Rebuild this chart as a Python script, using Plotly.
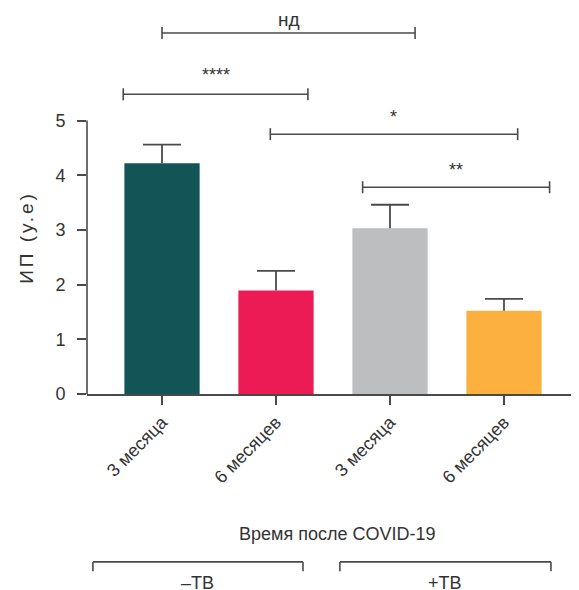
import plotly.graph_objects as go

categories = ["3 месяца", "6 месяцев", "3 месяца", "6 месяцев"]
means = [4.22, 1.89, 3.03, 1.52]
sd_upper = [0.34, 0.36, 0.43, 0.22]
bar_colors = ["#135457", "#EC1A55", "#BCBEC0", "#FBB040"]
y_ticks = [0, 1, 2, 3, 4, 5]

# significance brackets: (label, x_start, x_end, y_line, y_text)
sig_labels = ["нд", "****", "*", "**"]
sig_x0 = [0.0, -0.34, 0.95, 1.76]
sig_x1 = [2.22, 1.28, 3.12, 3.40]
sig_y = [6.60, 5.48, 4.75, 3.78]
sig_ty = [6.84, 5.83, 5.06, 4.10]
sig_size = [19, 18, 18, 18]

font_family = "Liberation Sans, Arial, sans-serif"
ink = "#333333"
line_c = "#4a4a4a"
xpos = list(range(len(categories)))

fig = go.Figure()
fig.add_trace(go.Bar(
    x=xpos, y=means,
    marker=dict(color=bar_colors, line=dict(width=0)),
    width=0.66, showlegend=False, hoverinfo="skip",
))

# upper-only error bars (stem + cap) built from the data
cap = 0.167
ex, ey = [], []
for x, m, s in zip(xpos, means, sd_upper):
    ex += [x, x, None, x - cap, x + cap, None]
    ey += [m, m + s, None, m + s, m + s, None]
fig.add_trace(go.Scatter(x=ex, y=ey, mode="lines",
                         line=dict(color=line_c, width=1.8),
                         showlegend=False, hoverinfo="skip"))

shapes = []
annotations = []
for lab, x0, x1, y, ty, fs in zip(sig_labels, sig_x0, sig_x1, sig_y, sig_ty, sig_size):
    shapes.append(dict(type="line", xref="x", yref="y", x0=x0, x1=x1, y0=y, y1=y,
                       line=dict(color=line_c, width=1.6)))
    for xe in (x0, x1):
        shapes.append(dict(type="line", xref="x", yref="y", x0=xe, x1=xe,
                           y0=y - 0.11, y1=y + 0.11, line=dict(color=line_c, width=1.6)))
    annotations.append(dict(text=lab, x=(x0 + x1) / 2, y=ty, xref="x", yref="y",
                            xanchor="center", yanchor="middle",
                            showarrow=False, font=dict(size=fs, color=ink, family=font_family)))

# y axis line only from 0 to 5
shapes.append(dict(type="line", xref="paper", yref="y", x0=0, x1=0, y0=0, y1=5,
                   line=dict(color=line_c, width=1.6)))

# bottom group brackets
groups = [("\u2013TB", 0.012, 0.439), ("+TB", 0.514, 0.943)]
for lab, a, b in groups:
    shapes.append(dict(type="line", xref="paper", yref="paper", x0=a, x1=b,
                       y0=-0.435, y1=-0.435, line=dict(color=line_c, width=1.6)))
    for xe in (a, b):
        shapes.append(dict(type="line", xref="paper", yref="paper", x0=xe, x1=xe,
                           y0=-0.435, y1=-0.459, line=dict(color=line_c, width=1.6)))
    annotations.append(dict(text=lab, x=(a + b) / 2, y=-0.49, xref="paper", yref="paper",
                            xanchor="center", yanchor="middle",
                            showarrow=False, font=dict(size=18, color=ink, family=font_family)))

annotations.append(dict(text="Время после COVID-19", x=0.508, y=-0.3627, xref="paper",
                        yref="paper", xanchor="center", yanchor="middle", showarrow=False,
                        font=dict(size=18, color=ink, family=font_family)))
annotations.append(dict(text='<span style="letter-spacing:3px">ИП (у.е)</span>',
                        x=-0.122, y=0.407, xref="paper", yref="paper",
                        xanchor="center", yanchor="middle",
                        showarrow=False, textangle=-90,
                        font=dict(size=19, color=ink, family=font_family)))

fig.update_layout(
    width=571, height=582,
    margin=dict(l=79, r=0, t=0, b=196),
    paper_bgcolor="white", plot_bgcolor="white",
    font=dict(family=font_family, color=ink, size=18),
    shapes=shapes, annotations=annotations,
    xaxis=dict(range=[-0.658, 3.658], tickvals=xpos,
               ticktext=categories, tickangle=-45, ticks="outside", ticklen=9,
               tickwidth=1.6, tickcolor=line_c, showline=True, linecolor=line_c,
               linewidth=1.6, showgrid=False, zeroline=False,
               tickfont=dict(size=18, color=ink, family=font_family)),
    yaxis=dict(range=[0, 7.057], tickvals=y_ticks, ticks="outside", ticklen=9,
               tickwidth=1.6, tickcolor=line_c, showline=False, showgrid=False,
               zeroline=False, ticklabelstandoff=8,
               tickfont=dict(size=18, color=ink, family=font_family)),
)

fig.write_html("out.html")
